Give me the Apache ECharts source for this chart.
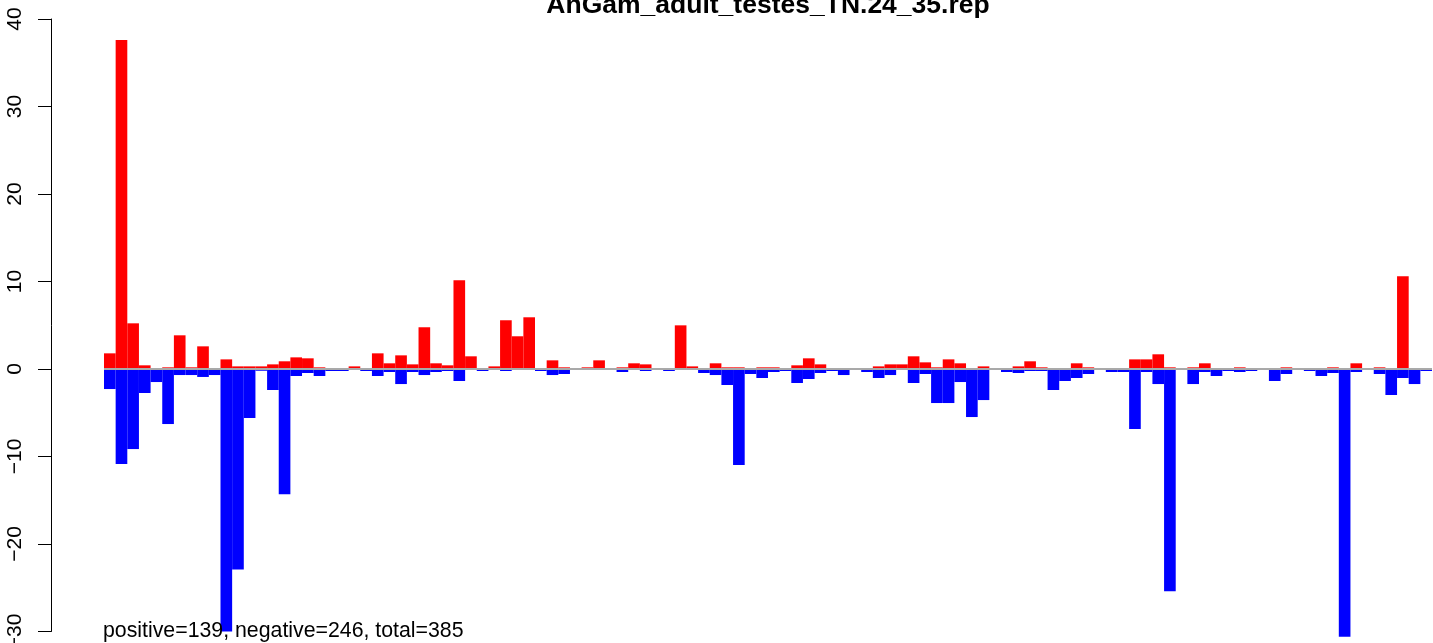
<!DOCTYPE html>
<html>
<head>
<meta charset="utf-8">
<script src="https://cdn.jsdelivr.net/npm/echarts@6/dist/echarts.min.js"></script>
<style>
  html, body { margin: 0; padding: 0; background: #ffffff; }
  #chart { width: 1433px; height: 643px; }
</style>
</head>
<body>
<div id="chart"></div>
<script>
// ---- data ----
const chartTitle = 'AnGam_adult_testes_TN.24_35.rep';
const summaryText = 'positive=139, negative=246, total=385';
const yTicks = [-30, -20, -10, 0, 10, 20, 30, 40];

const positiveValues = [
  1.79, 37.6, 5.22, 0.42, 0, 0.19, 3.85, 0.19, 2.59, 0.08,
  1.1, 0.3, 0.3, 0.3, 0.53, 0.88, 1.33, 1.22, 0.19, 0,
  0.08, 0.3, 0.08, 1.79, 0.65, 1.56, 0.53, 4.77, 0.65, 0.42,
  10.15, 1.45, 0.08, 0.3, 5.57, 3.74, 5.91, 0, 0.99, 0.19,
  0.08, 0.19, 0.99, 0.08, 0.19, 0.65, 0.53, 0.08, 0.08, 4.99,
  0.3, 0.08, 0.65, 0.19, 0.19, 0.08, 0.19, 0.19, 0, 0.42,
  1.22, 0.53, 0.08, 0.08, 0, 0.08, 0.3, 0.53, 0.53, 1.45,
  0.76, 0.19, 1.1, 0.65, 0.08, 0.3, 0, 0.08, 0.3, 0.88,
  0.19, 0, 0.08, 0.65, 0.19, 0, 0, 0, 1.1, 1.1,
  1.68, 0.19, 0, 0.19, 0.65, 0, 0.08, 0.19, 0, 0.08,
  0, 0.19, 0, 0, 0.08, 0.19, 0.08, 0.65, 0.08, 0.19,
  0.08, 10.6, 0, 0.08
];

const negativeValues = [
  -2.29, -10.87, -9.15, -2.74, -1.49, -6.29, -0.69, -0.69, -0.91, -0.69,
  -30.0, -22.9, -5.6, -0.2, -2.4, -14.3, -0.8, -0.46, -0.8, -0.23,
  -0.23, -0.1, -0.23, -0.8, -0.34, -1.72, -0.34, -0.69, -0.34, -0.23,
  -1.37, 0, -0.23, 0, -0.23, -0.1, 0, -0.23, -0.69, -0.57,
  -0.1, 0, -0.1, 0, -0.34, 0, -0.23, -0.1, -0.23, -0.1,
  -0.1, -0.46, -0.69, -1.83, -10.98, -0.57, -1.03, -0.34, -0.23, -1.6,
  -1.14, -0.46, -0.23, -0.69, -0.1, -0.34, -1.03, -0.69, 0, -1.6,
  -0.57, -3.89, -3.89, -1.49, -5.49, -3.55, -0.1, -0.34, -0.46, -0.23,
  -0.23, -2.4, -1.37, -1.03, -0.57, 0, -0.34, -0.34, -6.86, -0.34,
  -1.72, -25.4, 0, -1.72, -0.34, -0.8, -0.23, -0.34, -0.23, -0.1,
  -1.37, -0.57, 0, -0.23, -0.8, -0.46, -30.6, -0.34, 0, -0.57,
  -2.97, -1.03, -1.72, -0.23
];

const categories = positiveValues.map((_, i) => String(i + 1));

// ---- chart ----
const chart = echarts.init(document.getElementById('chart'), null, { renderer: 'canvas' });
const FONT = '"Liberation Sans", Arial, Helvetica, sans-serif';

chart.setOption({
  animation: false,
  backgroundColor: '#ffffff',
  title: [
    {
      text: chartTitle,
      left: 768,
      textAlign: 'center',
      top: -8,
      padding: 0,
      textStyle: { fontFamily: FONT, fontSize: 26.5, fontWeight: 'bold', color: '#000000' }
    },
    {
      text: summaryText,
      left: 103,
      top: 621,
      padding: 0,
      textStyle: { fontFamily: FONT, fontSize: 21.3, fontWeight: 'normal', color: '#000000' }
    }
  ],
  grid: {
    left: 104, right: 1, top: 19, height: 612.5,
    containLabel: false,
    outerBoundsMode: 'none'
  },
  xAxis: {
    type: 'category',
    data: categories,
    show: false,
    boundaryGap: true
  },
  yAxis: {
    type: 'value',
    min: yTicks[0],
    max: yTicks[yTicks.length - 1],
    interval: 10,
    offset: 53,
    axisLine: { show: true, lineStyle: { color: '#000000', width: 1 } },
    axisTick: { show: true, length: 13, lineStyle: { color: '#000000', width: 1 } },
    splitLine: { show: false },
    axisLabel: {
      rotate: 90,
      margin: 25,
      fontFamily: FONT,
      fontSize: 21,
      color: '#000000',
      formatter: v => (yTicks.indexOf(v) >= 0 ? String(v).replace('-', '\u2212') : '')
    }
  },
  series: [
    {
      type: 'bar',
      data: [],
      z: 1,
      markLine: {
        silent: true,
        symbol: 'none',
        label: { show: false },
        lineStyle: { color: '#a9a9a9', width: 2, type: 'solid' },
        data: [{ yAxis: 0 }]
      }
    },
    {
      name: 'positive',
      type: 'bar',
      data: positiveValues,
      clip: false,
      z: 3,
      barGap: '-100%',
      barCategoryGap: '0%',
      itemStyle: { color: '#ff0000' }
    },
    {
      name: 'negative',
      type: 'bar',
      data: negativeValues,
      clip: false,
      z: 3,
      barGap: '-100%',
      barCategoryGap: '0%',
      itemStyle: { color: '#0000ff' }
    }
  ]
});
</script>
</body>
</html>
